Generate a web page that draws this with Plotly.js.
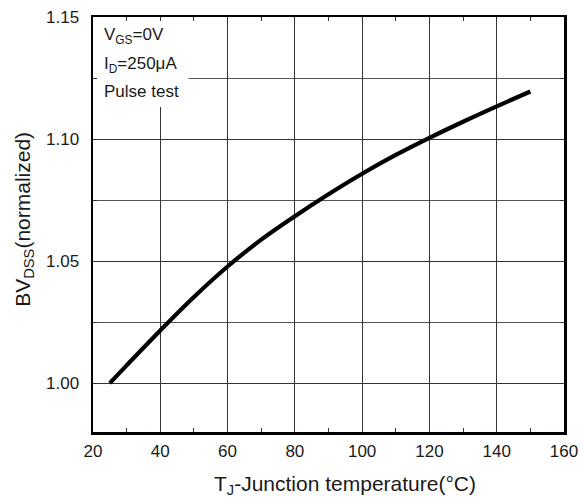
<!DOCTYPE html>
<html>
<head>
<meta charset="utf-8">
<script src="https://cdn.plot.ly/plotly-3.0.1.min.js"></script>
<style>html,body{margin:0;padding:0;background:#fff;}#chart{width:581px;height:498px;}</style>
</head>
<body>
<div id="chart"></div>
<script>
const tempC = [25, 30, 40, 50, 60, 70, 80, 90, 100, 110, 120, 130, 140, 150];
const bvdssNorm = [1.000, 1.0073, 1.0216, 1.0353, 1.0478, 1.0588, 1.0684, 1.0774, 1.0858, 1.0935, 1.1005, 1.1071, 1.1134, 1.1195];
const yTickVals = [1.00, 1.05, 1.10, 1.15];
const yTickText = ['1.00', '1.05', '1.10', '1.15'];
const xTickVals = [20, 40, 60, 80, 100, 120, 140, 160];
const xTitle = 'T<sub>J</sub>-Junction temperature(°C)';
const yTitle = 'BV<sub>DSS</sub>(normalized)';
const condLines = ['V<sub>GS</sub>=0V', 'I<sub>D</sub>=250μA', 'Pulse test'];

const trace = {
  x: tempC, y: bvdssNorm, type: 'scatter', mode: 'lines',
  line: {color: '#000', width: 4.2, shape: 'spline', smoothing: 1},
  hoverinfo: 'skip'
};

const txt = '#1a1a1a';
const condY = [0.954, 0.884, 0.821];
const annotations = condLines.map((t, i) => ({
  xref: 'paper', yref: 'paper', x: 0.02, y: condY[i], xanchor: 'left', yanchor: 'middle', showarrow: false,
  text: t, font: {size: 17, color: txt}
}));
annotations.push({
  xref: 'paper', yref: 'paper', x: 0.5355, y: -0.128, xanchor: 'center', yanchor: 'middle', showarrow: false,
  text: xTitle, font: {size: 21, color: txt}
});
annotations.push({
  xref: 'paper', yref: 'paper', x: -0.148, y: 0.512, xanchor: 'center', yanchor: 'middle', showarrow: false,
  textangle: -90, text: yTitle, font: {size: 21, color: txt}
});

const layout = {
  width: 581, height: 498,
  margin: {l: 92.5, r: 17, t: 17, b: 66, pad: 0},
  paper_bgcolor: '#fff', plot_bgcolor: '#fff',
  showlegend: false,
  font: {family: 'Liberation Sans, Arial, sans-serif', color: txt, size: 17},
  xaxis: {
    range: [20, 160], tickvals: xTickVals, ticks: 'inside', ticklen: 4, tickcolor: '#333',
    showgrid: true, gridcolor: '#333', gridwidth: 1,
    showline: true, linecolor: '#000', linewidth: 2.5, mirror: 'allticks',
    zeroline: false,
    minor: {dtick: 10, tick0: 0, ticks: 'inside', ticklen: 4, tickcolor: '#333', showgrid: false},
    tickfont: {size: 17, color: txt},
    ticklabelstandoff: 2
  },
  yaxis: {
    range: [0.98, 1.15], tickvals: yTickVals, ticktext: yTickText, ticks: 'inside', ticklen: 4, tickcolor: '#333',
    showgrid: true, gridcolor: '#333', gridwidth: 1,
    showline: true, linecolor: '#000', linewidth: 2.5, mirror: 'allticks',
    zeroline: false,
    minor: {dtick: 0.025, tick0: 1.0, ticks: 'inside', ticklen: 4, tickcolor: '#333', showgrid: true, gridcolor: '#555', gridwidth: 1},
    tickfont: {size: 17, color: txt},
    ticklabelstandoff: 8
  },
  shapes: [{
    type: 'rect', xref: 'x', yref: 'y', layer: 'between',
    x0: 20, x1: 48.4, y0: 1.1131, y1: 1.15,
    fillcolor: '#fff', line: {width: 0}
  }],
  annotations: annotations
};

Plotly.newPlot('chart', [trace], layout, {staticPlot: true, displayModeBar: false});
</script>
</body>
</html>
